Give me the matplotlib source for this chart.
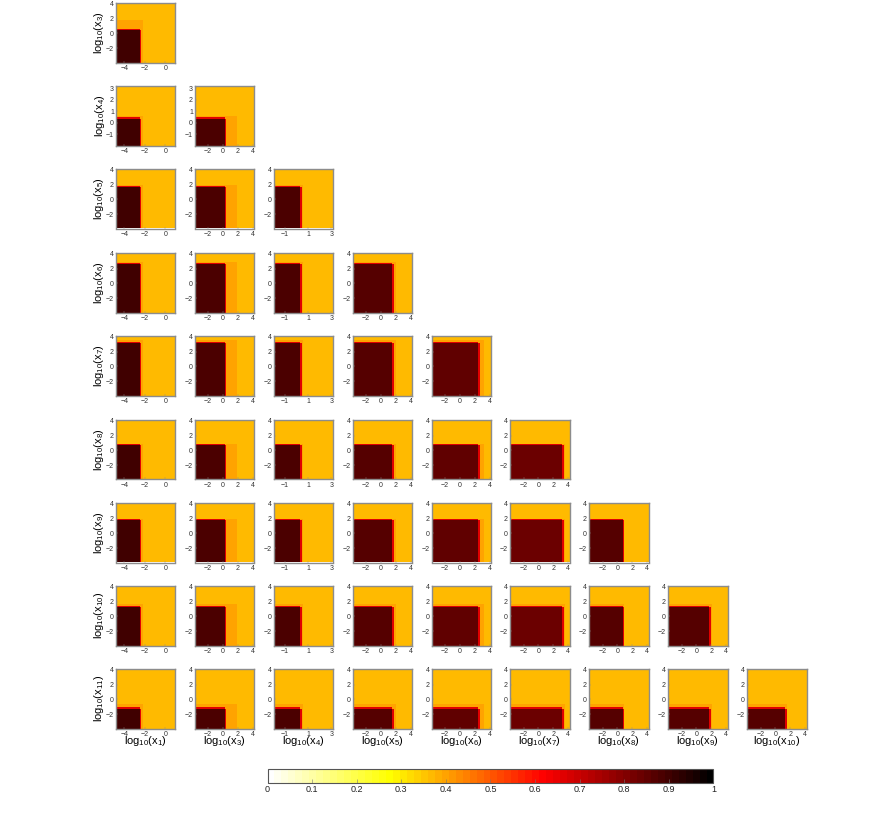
import numpy as np
import matplotlib
matplotlib.use('Agg')
import matplotlib.pyplot as plt
from matplotlib.colors import LinearSegmentedColormap, Normalize
from matplotlib.cm import ScalarMappable

plt.rcParams['font.family'] = ['Liberation Sans', 'DejaVu Sans']
plt.rcParams['mathtext.default'] = 'regular'

# parameters on each axis
col_names = ['1', '3', '4', '5', '6', '7', '8', '9', '10']
row_names = ['3', '4', '5', '6', '7', '8', '9', '10', '11']

# where the dark block ends on each axis
col_edges = [-2.3, 0.5, 0.45, 1.8, 2.75, 3.4, 0.9, 1.9, 1.47]
row_edges = [0.7, 0.5, 1.85, 2.8, 3.35, 0.8, 1.95, 1.43, -1.05]

# axis ranges
col_lims = [(-4.8, 1), (-3.7, 4.2), (-2, 3.15), (-3.85, 4.2), (-3.85, 4.2),
            (-3.85, 4.2), (-3.85, 4.2), (-3.85, 4.2), (-3.85, 4.2)]
row_lims = [(-3.9, 4.1), (-2, 3.2), (-3.9, 4.1), (-3.9, 4.1), (-3.9, 4.1),
            (-3.9, 4.1), (-3.9, 4.1), (-3.9, 4.1), (-3.9, 4.1)]

col_ticks = [[-4, -2, 0], [-2, 0, 2, 4], [-1, 1, 3], [-2, 0, 2, 4], [-2, 0, 2, 4],
             [-2, 0, 2, 4], [-2, 0, 2, 4], [-2, 0, 2, 4], [-2, 0, 2, 4]]
row_ticks = [[-2, 0, 2, 4], [-1, 0, 1, 2, 3], [-2, 0, 2, 4], [-2, 0, 2, 4], [-2, 0, 2, 4],
             [-2, 0, 2, 4], [-2, 0, 2, 4], [-2, 0, 2, 4], [-2, 0, 2, 4]]

# colour values: plain background, faint fringe, block rim, block inside
background = 0.36
fringe = 0.4
rim = 0.66
col_dark = [0.9, 0.88, 0.89, 0.86, 0.85, 0.84, 0.87, 0.87, 0.87]

# how far the faint fringe reaches past the block
col_fringe = [0.1, 1.4, 0.1, 0.2, 0.4, 0.2, 0.1, 0.1, 0.1]
row_fringe = [1.2, 0.1, 0.1, 0.2, 0.2, 0.1, 0.1, 0.1, 0.3]

cbar_ticks = [0, 0.1, 0.2, 0.3, 0.4, 0.5, 0.6, 0.7, 0.8, 0.9, 1]
cbar_labels = ['0', '0.1', '0.2', '0.3', '0.4', '0.5', '0.6', '0.7', '0.8', '0.9', '1']

W, H = 885, 827
col_left = [116, 195, 273.5, 352.5, 431.5, 510, 589, 668, 747]
row_top = [3, 86, 169, 253, 336, 420, 503, 586, 669]
SIZE = 59.5
GRID = 42
FRAME = '#8c8c8c'

cmap = LinearSegmentedColormap.from_list(
    'hot_r_like',
    [(0, '#ffffff'), (0.27, '#ffff00'), (0.62, '#ff0000'), (1, '#000000')], N=64)
norm = Normalize(0, 1)


def style(ax):
    for s in ax.spines.values():
        s.set_color(FRAME)
        s.set_linewidth(1.0)
    ax.tick_params(length=1.2, width=0.3, color=FRAME, labelsize=5, pad=1.5,
                   labelcolor='#333333', direction='in')


fig = plt.figure(figsize=(W / 100, H / 100), dpi=100)

for r in range(len(row_names)):
    for c in range(r + 1):
        ax = fig.add_axes([col_left[c] / W, 1 - (row_top[r] + SIZE) / H, SIZE / W, SIZE / H])
        xs = np.linspace(col_lims[c][0], col_lims[c][1], GRID + 1)
        ys = np.linspace(row_lims[r][0], row_lims[r][1], GRID + 1)
        xc = (xs[:-1] + xs[1:]) / 2
        yc = (ys[:-1] + ys[1:]) / 2
        X, Y = np.meshgrid(xc, yc)
        sx = (col_lims[c][1] - col_lims[c][0]) / GRID
        sy = (row_lims[r][1] - row_lims[r][0]) / GRID
        tx, ty = col_edges[c], row_edges[r]

        Z = np.full(X.shape, background)
        Z[(X < tx + col_fringe[c]) & (Y < ty + row_fringe[r])] = fringe
        Z[(X < tx) & (Y < ty)] = rim
        Z[(X < tx - sx) & (Y < ty - sy)] = col_dark[c]
        # the block corner is rounded off in the picture
        Z[(X > tx - sx) & (X < tx) & (Y > ty - sy) & (Y < ty)] = fringe
        ax.pcolormesh(xs, ys, Z, cmap=cmap, norm=norm, linewidth=0, rasterized=True)

        ax.set_xlim(col_lims[c])
        ax.set_ylim(row_lims[r])
        ax.set_xticks(col_ticks[c])
        ax.set_yticks(row_ticks[r])
        ax.xaxis.set_major_formatter(lambda v, p: f'{v:g}'.replace('-', '\u2212'))
        ax.yaxis.set_major_formatter(lambda v, p: f'{v:g}'.replace('-', '\u2212'))
        style(ax)

        if c == 0:
            ax.set_ylabel('log$_{10}$(x$_{%s}$)' % row_names[r], fontsize=8, labelpad=-0.5)
        if r == len(row_names) - 1:
            ax.set_xlabel('log$_{10}$(x$_{%s}$)' % col_names[c], fontsize=8, labelpad=-2.5)

# colorbar
cax = fig.add_axes([267.5 / W, 1 - 782.5 / H, 446 / W, 13.5 / H])
cb = fig.colorbar(ScalarMappable(norm=norm, cmap=cmap), cax=cax, orientation='horizontal')
cb.set_ticks(cbar_ticks)
cb.set_ticklabels(cbar_labels)
cb.outline.set_edgecolor('#555555')
cb.outline.set_linewidth(0.8)
cax.tick_params(length=3, width=0.4, color='#777777', labelsize=6.5, pad=2,
                labelcolor='#222222', direction='in')

fig.savefig('out.png', dpi=100)
